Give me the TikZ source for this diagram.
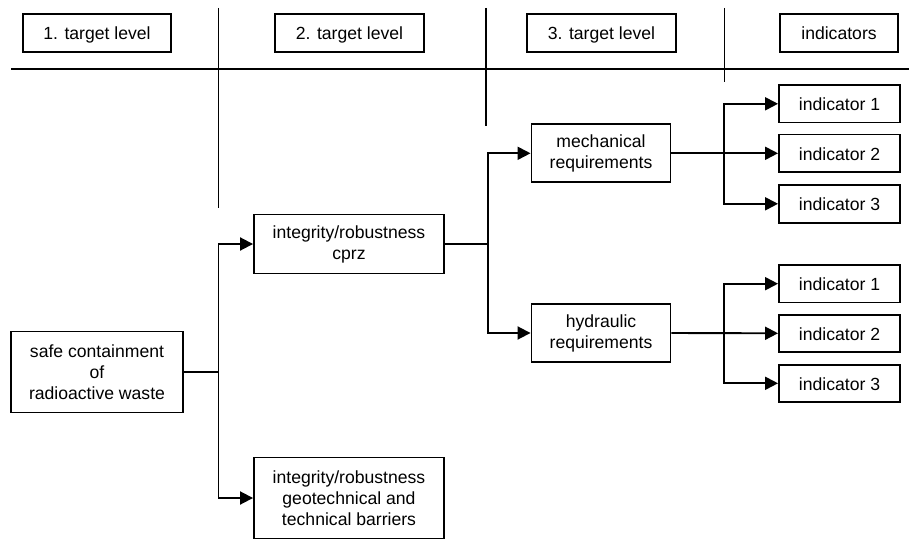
\documentclass[tikz,border=0pt]{standalone}
\usepackage{fontspec}
\setmainfont{Liberation Sans}
\usetikzlibrary{arrows.meta}
\begin{document}
\begin{tikzpicture}[x=1pt,y=-1pt,
  every node/.style={font=\fontsize{17.6}{21}\selectfont},
  box/.style={draw,line width=1.9pt,align=center,inner sep=0pt,minimum height=#1},
  box/.default=38pt,
  one/.style={text height=14pt,text depth=0.5pt},
  arr/.style={line width=1.9pt,-{Triangle[length=13pt,width=13pt]}},
  ln/.style={line width=1.9pt}]
\useasboundingbox (0,0) rectangle (909,540);
% headers
\node[box,one,minimum width=148pt] (h1) at (97,33) {1. target level};
\node[box,one,minimum width=149pt] (h2) at (349.5,33) {2. target level};
\node[box,one,minimum width=149pt] (h3) at (601.5,33) {3. target level};
\node[box,one,minimum width=118pt] (h4) at (839,33) {indicators};
% dividers
\draw[ln] (11,69) -- (909,69);
\draw[ln] (218.5,8) -- (218.5,208);
\draw[ln] (486,8) -- (486,126);
\draw[ln] (724.5,8) -- (724.5,82);
% level 1
\node[box=81pt,minimum width=172pt] (safe) at (97,372) {safe containment\\of\\radioactive waste};
% level 2
\node[box=59pt,minimum width=190pt] (cprz) at (349,244) {integrity/robustness\\cprz};
\node[box=81pt,minimum width=190pt] (geo) at (349,498) {integrity/robustness\\geotechnical and\\technical barriers};
% level 3
\node[box=58pt,minimum width=139pt] (mech) at (601,153.3) {mechanical\\requirements};
\node[box=58pt,minimum width=139pt] (hyd) at (601,333) {hydraulic\\requirements};
% indicators
\node[box=37.5pt,one,minimum width=121pt] (m1) at (839.5,103.8) {indicator 1};
\node[box=37.5pt,one,minimum width=121pt] (m2) at (839.5,153.3) {indicator 2};
\node[box=37.5pt,one,minimum width=121pt] (m3) at (839.5,203.8) {indicator 3};
\node[box=37.5pt,one,minimum width=121pt] (n1) at (839.5,283.7) {indicator 1};
\node[box=37.5pt,one,minimum width=121pt] (n2) at (839.5,333.3) {indicator 2};
\node[box=37.5pt,one,minimum width=121pt] (n3) at (839.5,383.3) {indicator 3};
% junctions
\coordinate (j1) at (218.5,372);
\coordinate (j2) at (488,244);
\coordinate (j3) at (724,153.3);
\coordinate (j4) at (724,333.3);
% connectors
\draw[ln] (safe.east) -- (j1);
\draw[arr] (j1) |- (cprz.west);
\draw[arr] (j1) |- (geo.west);
\draw[ln] (cprz.east) -- (j2);
\draw[arr] (j2) |- (mech.west);
\draw[arr] (j2) |- (hyd.west);
\draw[arr] (mech.east) -- (m2.west);
\draw[arr] (j3) |- (m1.west);
\draw[arr] (j3) |- (m3.west);
\draw[arr] (hyd.east) -- (n2.west);
\draw[arr] (j4) |- (n1.west);
\draw[arr] (j4) |- (n3.west);
\end{tikzpicture}
\end{document}
